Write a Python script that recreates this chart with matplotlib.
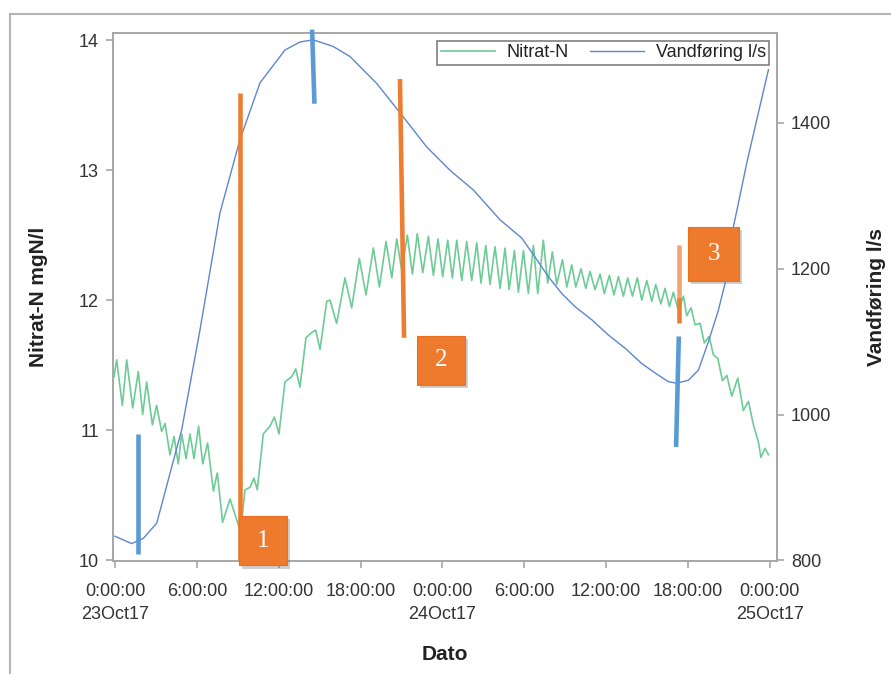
import matplotlib
matplotlib.use("Agg")
import matplotlib.pyplot as plt
from matplotlib.patches import Rectangle
from matplotlib.lines import Line2D

plt.rcParams["font.family"] = ["Liberation Sans", "DejaVu Sans"]

# ── Data (hours since 23Oct17 0:00) ─────────────────────
nitrat_t = [-0.07, 0.12, 0.54, 0.86, 1.30, 1.71, 2.03, 2.32, 2.74, 3.05, 3.42, 3.67,
            4.03, 4.33, 4.64, 4.89, 5.21, 5.50, 5.79, 6.13, 6.43, 6.79, 7.21, 7.50,
            7.89, 8.43, 8.80, 9.20, 9.53, 9.90, 10.19, 10.43, 10.87, 11.36, 11.68, 12.02,
            12.46, 12.95, 13.25, 13.56, 14.00, 14.42, 14.71, 15.03, 15.52, 15.76, 16.25,
            16.86, 17.35, 17.91, 18.40, 18.94, 19.38, 19.87, 20.29, 20.65, 21.02, 21.43,
            21.80, 22.16, 22.56, 22.97, 23.34, 23.68, 24.02, 24.39, 24.73, 25.05, 25.42,
            25.78, 26.15, 26.52, 26.83, 27.18, 27.49, 27.86, 28.23, 28.59, 28.89, 29.28,
            29.57, 29.94, 30.30, 30.67, 30.99, 31.40, 31.72, 32.06, 32.38, 32.80, 33.12,
            33.48, 33.78, 34.16, 34.51, 34.82, 35.19, 35.56, 35.87, 36.24, 36.58, 36.90,
            37.27, 37.58, 37.93, 38.29, 38.61, 38.98, 39.35, 39.64, 40.01, 40.32, 40.64,
            40.93, 41.30, 41.67, 41.91, 42.23, 42.52, 42.89, 43.20, 43.55, 43.86, 44.19,
            44.53, 44.85, 45.21, 45.65, 46.06, 46.43, 46.80, 47.16, 47.35, 47.65, 47.90]
nitrat_v = [11.41, 11.54, 11.19, 11.54, 11.17, 11.45, 11.12, 11.37, 11.04, 11.19, 10.99, 11.05,
            10.81, 10.95, 10.74, 10.97, 10.78, 10.97, 10.78, 11.03, 10.74, 10.90, 10.53, 10.67,
            10.29, 10.47, 10.35, 10.22, 10.54, 10.56, 10.63, 10.54, 10.97, 11.03, 11.10, 10.97,
            11.37, 11.41, 11.47, 11.33, 11.71, 11.75, 11.77, 11.62, 11.99, 12.00, 11.82,
            12.17, 11.94, 12.32, 12.04, 12.40, 12.10, 12.45, 12.17, 12.47, 12.23, 12.50,
            12.20, 12.51, 12.21, 12.49, 12.19, 12.47, 12.18, 12.46, 12.17, 12.46, 12.15,
            12.45, 12.15, 12.44, 12.13, 12.42, 12.12, 12.41, 12.09, 12.40, 12.08, 12.38,
            12.06, 12.38, 12.05, 12.42, 12.05, 12.46, 12.13, 12.37, 12.12, 12.31, 12.10,
            12.27, 12.10, 12.24, 12.09, 12.22, 12.08, 12.20, 12.05, 12.19, 12.04, 12.18,
            12.03, 12.17, 12.03, 12.17, 12.00, 12.15, 11.99, 12.12, 11.97, 12.09, 11.95,
            12.06, 11.92, 12.03, 11.88, 11.94, 11.81, 11.82, 11.67, 11.72, 11.58, 11.55,
            11.38, 11.42, 11.26, 11.40, 11.15, 11.22, 11.04, 10.91, 10.79, 10.86, 10.81]

flow_t = [0.0, 1.22, 2.07, 3.06, 4.03, 4.89, 6.23, 7.70, 9.16, 10.63, 12.46, 13.56,
          14.52, 15.98, 17.23, 19.19, 20.89, 22.85, 24.56, 26.27, 28.23, 29.82, 30.79,
          31.77, 32.75, 33.72, 34.95, 36.17, 37.39, 38.61, 39.59, 40.57, 41.18, 42.03,
          42.77, 43.50, 44.23, 44.72, 45.34, 46.31, 47.04, 47.90]
flow_v = [833, 823, 830, 851, 919, 979, 1116, 1277, 1377, 1455, 1500, 1511,
          1514, 1505, 1491, 1454, 1414, 1367, 1335, 1308, 1267, 1242, 1216,
          1189, 1166, 1148, 1130, 1109, 1091, 1070, 1057, 1045, 1043, 1047,
          1061, 1100, 1143, 1180, 1258, 1345, 1404, 1473]

x_ticks = [0, 6, 12, 18, 24, 30, 36, 42, 48]
x_labels = ["0:00:00\n23Oct17", "6:00:00", "12:00:00", "18:00:00", "0:00:00\n24Oct17",
            "6:00:00", "12:00:00", "18:00:00", "0:00:00\n25Oct17"]

# annotation bars (in Nitrat-N units): x_top, x_bottom, y_top, y_bottom
orange_bars = [(9.20, 9.20, 13.59, 10.00), (20.89, 21.19, 13.70, 11.71), (41.32, 41.32, 12.02, 11.82)]
orange_faded = [(41.32, 41.32, 12.42, 12.02)]
blue_bars = [(1.71, 1.71, 10.97, 10.05), (14.45, 14.62, 14.08, 13.51), (41.33, 41.13, 11.72, 10.87)]
# label boxes: left, bottom, width (h), height, text
boxes = [(9.11, 9.96, 3.52, 0.377, "1"), (22.16, 11.35, 3.52, 0.377, "2"),
         (42.03, 12.15, 3.74, 0.415, "3")]

green = "#6DCB95"
blue = "#5E86CC"
orange = "#ED7D31"
bar_blue = "#5B9BD5"
gray = "#A6A6A6"

fig = plt.figure(figsize=(8.91, 6.74), dpi=100)
ax1 = fig.add_axes([0.1268, 0.1681, 0.7453, 0.7829])
ax2 = ax1.twinx()

ln1, = ax1.plot(nitrat_t, nitrat_v, color=green, lw=1.2, label="Nitrat-N",
                solid_joinstyle="round")
ln2, = ax2.plot(flow_t, flow_v, color=blue, lw=1.0, label="Vandføring l/s",
                solid_joinstyle="round")

ax1.set_xlim(-0.147, 48.53)
ax1.set_ylim(9.995, 14.054)
ax2.set_ylim(799.5, 1523.3)

ax1.set_xticks(x_ticks)
ax1.set_xticklabels(x_labels, linespacing=1.45)
ax1.set_yticks([10, 11, 12, 13, 14])
ax2.set_yticks([800, 1000, 1200, 1400])

for ax in (ax1, ax2):
    for sp in ax.spines.values():
        sp.set_color(gray)
        sp.set_linewidth(1.2)
    ax.tick_params(colors=gray, labelcolor="#333333", labelsize=13, length=5, width=1.2)
ax1.tick_params(axis="x", pad=11)
ax1.tick_params(axis="y", pad=5)
ax2.tick_params(axis="y", pad=5)

fig.text(38.5 / 891, 1 - 296.5 / 674, "Nitrat-N mgN/l", rotation=90, ha="center",
         va="center", fontsize=15, fontweight="bold", color="#222222")
fig.text(876 / 891, 1 - 296.5 / 674, "Vandføring l/s", rotation=90, ha="center",
         va="center", fontsize=15, fontweight="bold", color="#222222")
fig.text(445 / 891, 1 - 655 / 674, "Dato", ha="center", va="center",
         fontsize=15, fontweight="bold", color="#222222")

leg = ax2.legend(handles=[ln1, ln2], loc="upper right", ncol=2, fontsize=13,
                 handlelength=3.0, handletextpad=0.65, columnspacing=1.15,
                 borderpad=0.2, borderaxespad=0.42, fancybox=False, framealpha=1)
leg.get_frame().set_edgecolor("#808080")
leg.get_frame().set_linewidth(1.2)
for t in leg.get_texts():
    t.set_color("#222222")

# annotations drawn over both lines
tr = ax1.transData
for xt, xb, yt, yb in orange_bars:
    ax2.plot([xt, xb], [yt, yb], color=orange, lw=3.3, transform=tr, zorder=5,
             solid_capstyle="butt", clip_on=False)
for xt, xb, yt, yb in orange_faded:
    ax2.plot([xt, xb], [yt, yb], color=orange, lw=3.3, alpha=0.7, transform=tr, zorder=5,
             solid_capstyle="butt", clip_on=False)
for xt, xb, yt, yb in blue_bars:
    ax2.plot([xt, xb], [yt, yb], color=bar_blue, lw=3.3, transform=tr, zorder=5,
             solid_capstyle="butt", clip_on=False)

for x0, y0, w, h, s in boxes:
    ax2.add_patch(Rectangle((x0 + 0.2, y0 - 0.025), w, h, transform=tr, color="#777777",
                            alpha=0.35, lw=0, zorder=6, clip_on=False))
    ax2.add_patch(Rectangle((x0, y0), w, h, transform=tr, facecolor="#EE7A2E",
                            edgecolor="#E8701F", lw=0.8, zorder=7, clip_on=False))
    ax2.text(x0 + w / 2, y0 + h / 2, s, transform=tr, ha="center", va="center",
             color="white", fontsize=18, family="Liberation Serif", zorder=8)

# outer frame
fig.add_artist(Line2D([10 / 891, 10 / 891], [0, 1 - 14 / 674], color="#B4B4B4", lw=1.5))
fig.add_artist(Line2D([10 / 891, 1], [1 - 14 / 674, 1 - 14 / 674], color="#B4B4B4", lw=1.5))

fig.savefig("out.png", dpi=100)
